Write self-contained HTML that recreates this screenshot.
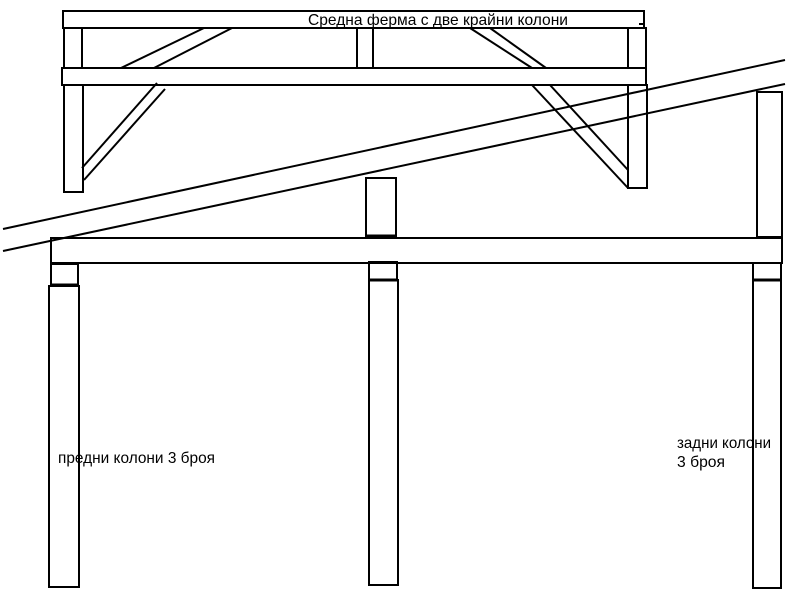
<!DOCTYPE html>
<html><head><meta charset="utf-8"><style>
html,body{margin:0;padding:0;background:#fff;width:800px;height:600px;overflow:hidden}
svg{display:block}
text{font-family:"Liberation Sans",sans-serif;font-size:16px;fill:#000}
</style></head><body>
<svg width="800" height="600" viewBox="0 0 800 600" xmlns="http://www.w3.org/2000/svg">
<g fill="none" stroke="#000" stroke-width="2">
<rect x="63" y="11" width="581" height="17"/>
<rect x="64" y="28" width="18" height="40"/>
<rect x="357" y="28" width="16" height="40"/>
<rect x="628" y="28" width="18" height="40"/>
<rect x="62" y="68" width="584" height="17"/>
<rect x="64" y="85" width="19" height="107"/>
<rect x="628" y="85" width="19" height="103"/>
<line x1="121" y1="68" x2="204" y2="28"/>
<line x1="154" y1="68" x2="232" y2="28"/>
<line x1="470" y1="28" x2="532" y2="68"/>
<line x1="490" y1="28" x2="546" y2="68"/>
<line x1="82" y1="168" x2="157" y2="83"/>
<line x1="84" y1="180" x2="165" y2="89"/>
<line x1="532" y1="85" x2="628" y2="188"/>
<line x1="550" y1="85" x2="628" y2="170"/>
<line x1="3" y1="229" x2="785" y2="60"/>
<line x1="3" y1="251" x2="785" y2="84"/>
<rect x="366" y="178" width="30" height="58"/>
<rect x="757" y="92" width="25" height="145"/>
<rect x="51" y="238" width="731" height="25"/>
<rect x="51" y="264" width="27" height="21"/>
<rect x="49" y="286" width="30" height="301"/>
<rect x="369" y="262" width="28" height="18"/>
<rect x="369" y="280" width="29" height="305"/>
<rect x="753" y="263" width="28" height="17"/>
<rect x="753" y="280" width="28" height="308"/>
</g>
<g stroke="#000" stroke-width="3">
<line x1="51" y1="285" x2="78" y2="285"/>
<line x1="369" y1="280" x2="397" y2="280"/>
<line x1="753" y1="280" x2="781" y2="280"/>
<line x1="366" y1="236" x2="396" y2="236"/>
</g>
<line x1="639" y1="24" x2="643" y2="24" stroke="#000" stroke-width="2"/>
<text x="308" y="25" textLength="260" lengthAdjust="spacingAndGlyphs">Средна ферма с две крайни колони</text>
<text x="58" y="463" textLength="157" lengthAdjust="spacingAndGlyphs">предни колони 3 броя</text>
<text x="677" y="448" textLength="94" lengthAdjust="spacingAndGlyphs">задни колони</text>
<text x="677" y="467" textLength="48" lengthAdjust="spacingAndGlyphs">3 броя</text>
</svg>
</body></html>
